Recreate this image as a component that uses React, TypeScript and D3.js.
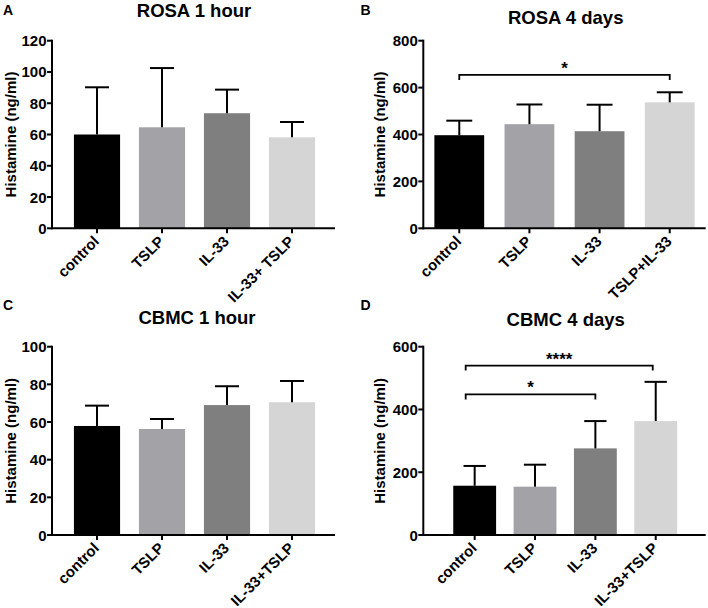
import React from "react";
import * as d3 from "d3";

// ---------- data ----------
const catsA = ["control", "TSLP", "IL-33", "IL-33+ TSLP"];
const meanA = [60, 64.6, 73.6, 58.2];
const sdA = [30.2, 37.9, 15.1, 9.8];
const ticksA = [0, 20, 40, 60, 80, 100, 120];

const catsB = ["control", "TSLP", "IL-33", "TSLP+IL-33"];
const meanB = [397, 444, 414, 537];
const sdB = [62, 84, 113, 43];
const ticksB = [0, 200, 400, 600, 800];

const catsC = ["control", "TSLP", "IL-33", "IL-33+TSLP"];
const meanC = [57.9, 56.3, 69, 70.5];
const sdC = [10.8, 5.3, 10, 11.3];
const ticksC = [0, 20, 40, 60, 80, 100];

const catsD = ["control", "TSLP", "IL-33", "IL-33+TSLP"];
const meanD = [157, 154, 276, 363];
const sdD = [63, 70, 87, 125];
const ticksD = [0, 200, 400, 600];

const barColors = ["#000000", "#a3a3a7", "#7f7f7f", "#d5d5d5"];

const titles = ["ROSA 1 hour", "ROSA 4 days", "CBMC 1 hour", "CBMC 4 days"];
const letters = ["A", "B", "C", "D"];
const yLabel = "Histamine (ng/ml)";

// significance brackets: [fromIndex, toIndex, level(value), label]
const bracketsB: [number, number, number, string][] = [[0, 3, 654, "*"]];
const bracketsD: [number, number, number, string][] = [
  [0, 3, 540, "****"],
  [0, 2, 448, "*"],
];

const FONT = "'Liberation Sans', Arial, Helvetica, sans-serif";

type PanelProps = {
  cats: string[];
  mean: number[];
  sd: number[];
  ticks: number[];
  title: string;
  letter: string;
  axisX: number;
  axisEnd: number;
  barRange: [number, number];
  yTop: number;
  yBottom: number;
  titleX: number;
  titleY: number;
  letterX: number;
  letterY: number;
  yLabelX: number;
  brackets?: [number, number, number, string][];
  leftInset?: number;
};

function Panel(p: PanelProps) {
  const yMax = p.ticks[p.ticks.length - 1];
  const y = d3.scaleLinear().domain([0, yMax]).range([p.yBottom, p.yTop]);
  const x = d3
    .scaleBand<string>()
    .domain(p.cats)
    .range(p.barRange)
    .paddingInner(0.29)
    .paddingOuter(0.145);
  const bw = x.bandwidth();
  const cx = (c: string) => (x(c) as number) + bw / 2;
  const stroke = 2;
  return (
    <g>
      <text x={p.letterX} y={p.letterY} fontFamily={FONT} fontWeight="bold" fontSize={14}>
        {p.letter}
      </text>
      <text
        x={p.titleX}
        y={p.titleY}
        textAnchor="middle"
        fontFamily={FONT}
        fontWeight="bold"
        fontSize={18.5}
      >
        {p.title}
      </text>
      <text
        transform={`translate(${p.yLabelX},${(p.yTop + p.yBottom) / 2}) rotate(-90)`}
        textAnchor="middle"
        dominantBaseline="central"
        fontFamily={FONT}
        fontWeight="bold"
        fontSize={15}
      >
        {yLabel}
      </text>
      {/* bars */}
      {p.cats.map((c, i) => (
        <rect
          key={c}
          x={x(c)}
          y={y(p.mean[i])}
          width={bw}
          height={p.yBottom - y(p.mean[i])}
          fill={barColors[i]}
        />
      ))}
      {/* error bars */}
      {p.cats.map((c, i) => (
        <g key={c + "e"} stroke="#000" strokeWidth={stroke}>
          <line x1={cx(c)} x2={cx(c)} y1={y(p.mean[i])} y2={y(p.mean[i] + p.sd[i])} />
          <line
            x1={cx(c) - bw * 0.26}
            x2={cx(c) + bw * 0.26}
            y1={y(p.mean[i] + p.sd[i])}
            y2={y(p.mean[i] + p.sd[i])}
          />
        </g>
      ))}
      {/* y axis */}
      <line x1={p.axisX} x2={p.axisX} y1={p.yTop - 1} y2={p.yBottom + 1} stroke="#000" strokeWidth={stroke} />
      {p.ticks.map((t) => (
        <g key={t}>
          <line x1={p.axisX - 5} x2={p.axisX} y1={y(t)} y2={y(t)} stroke="#000" strokeWidth={stroke} />
          <text
            x={p.axisX - 5.5}
            y={y(t)}
            textAnchor="end"
            dominantBaseline="central"
            fontFamily={FONT}
            fontWeight="bold"
            fontSize={15}
          >
            {t}
          </text>
        </g>
      ))}
      {/* x axis */}
      <line x1={p.axisX - 1} x2={p.axisEnd} y1={p.yBottom} y2={p.yBottom} stroke="#000" strokeWidth={stroke} />
      {p.cats.map((c) => (
        <g key={c + "t"}>
          <line x1={cx(c)} x2={cx(c)} y1={p.yBottom} y2={p.yBottom + 5} stroke="#000" strokeWidth={stroke} />
          <text
            transform={`translate(${cx(c) + 3},${p.yBottom + 14}) rotate(-45)`}
            textAnchor="end"
            fontFamily={FONT}
            fontWeight="bold"
            fontSize={15}
          >
            {c}
          </text>
        </g>
      ))}
      {/* brackets */}
      {(p.brackets || []).map(([a, b, lvl, lab], k) => {
        const x1 = cx(p.cats[a]) - (p.leftInset || 0);
        const x2 = cx(p.cats[b]) - (p.leftInset ? 3 * (b === 3 ? 1 : 0) : 0);
        const yy = y(lvl);
        return (
          <g key={k}>
            <path
              d={`M${x1},${yy + 5}V${yy}H${x2}V${yy + 5}`}
              fill="none"
              stroke="#000"
              strokeWidth={1.8}
            />
            <text
              x={(x1 + x2) / 2}
              y={yy - 1}
              textAnchor="middle"
              fontFamily={FONT}
              fontWeight="bold"
              fontSize={17}
            >
              {lab}
            </text>
          </g>
        );
      })}
    </g>
  );
}

export default function App() {
  return (
    <svg
      width={708}
      height={608}
      style={{ position: "absolute", left: 0, top: 0, background: "#fff" }}
    >
      <rect width={708} height={608} fill="#fff" />
      <Panel
        cats={catsA}
        mean={meanA}
        sd={sdA}
        ticks={ticksA}
        title={titles[0]}
        letter={letters[0]}
        axisX={52}
        axisEnd={335}
        barRange={[64.5, 324.5]}
        yTop={40.7}
        yBottom={228.3}
        titleX={194}
        titleY={16.5}
        letterX={3}
        letterY={15}
        yLabelX={10}
      />
      <Panel
        cats={catsB}
        mean={meanB}
        sd={sdB}
        ticks={ticksB}
        title={titles[1]}
        letter={letters[1]}
        axisX={423.3}
        axisEnd={705.7}
        barRange={[424.2, 704.8]}
        yTop={40.7}
        yBottom={228.3}
        titleX={565.7}
        titleY={23.5}
        letterX={360.5}
        letterY={15}
        yLabelX={379.5}
        brackets={bracketsB}
      />
      <Panel
        cats={catsC}
        mean={meanC}
        sd={sdC}
        ticks={ticksC}
        title={titles[2]}
        letter={letters[2]}
        axisX={52}
        axisEnd={335}
        barRange={[64.5, 324.5]}
        yTop={346.7}
        yBottom={535}
        titleX={197}
        titleY={323.5}
        letterX={3}
        letterY={310}
        yLabelX={10}
      />
      <Panel
        cats={catsD}
        mean={meanD}
        sd={sdD}
        ticks={ticksD}
        title={titles[3]}
        letter={letters[3]}
        axisX={423.3}
        axisEnd={705.7}
        barRange={[444.5, 685.9]}
        yTop={346.7}
        yBottom={535}
        titleX={565.7}
        titleY={325.5}
        letterX={360.5}
        letterY={310}
        yLabelX={379.5}
        brackets={bracketsD}
        leftInset={9}
      />
    </svg>
  );
}
